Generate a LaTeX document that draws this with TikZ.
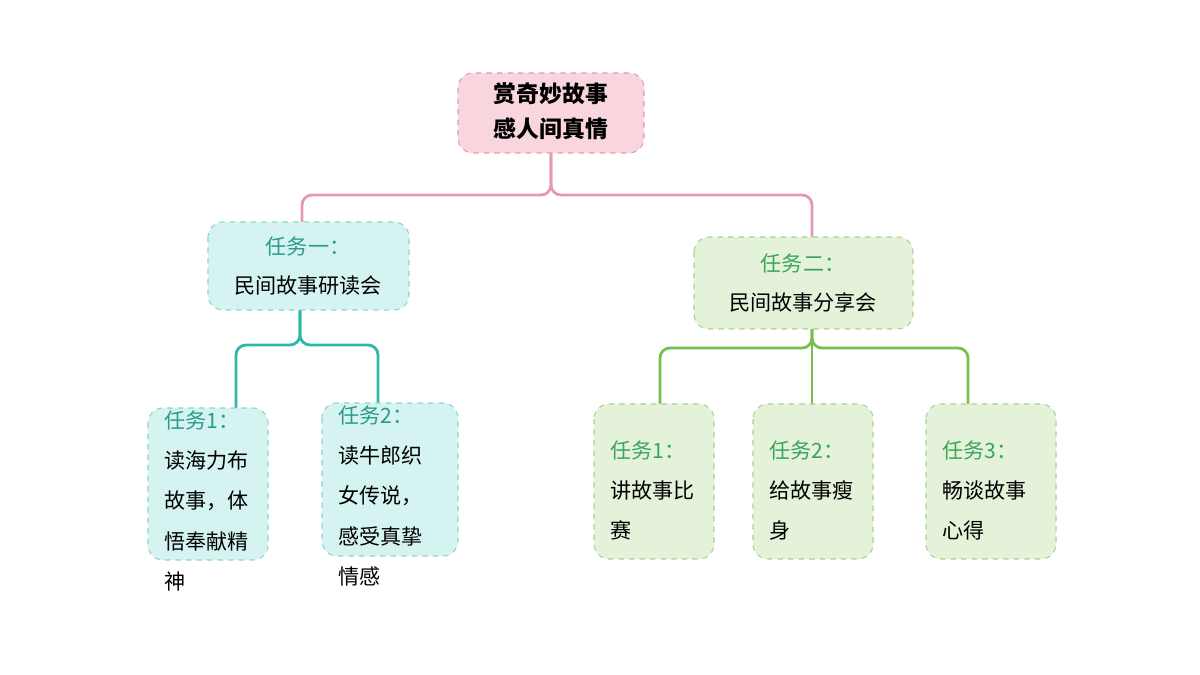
\documentclass[tikz,border=0pt]{standalone}
\usepackage{fontspec}
\setmainfont{Noto Sans CJK SC}
\usetikzlibrary{positioning,calc}
\definecolor{rootFill}{HTML}{F9D6DE}
\definecolor{rootLine}{HTML}{E49AAC}
\definecolor{cyFill}{HTML}{D5F4F1}
\definecolor{cyLine}{HTML}{8FD3CA}
\definecolor{cyEdge}{HTML}{2CB8A8}
\definecolor{cyText}{HTML}{2A9A8C}
\definecolor{grFill}{HTML}{E4F2D9}
\definecolor{grLine}{HTML}{A9D18F}
\definecolor{grEdge}{HTML}{77C04E}
\definecolor{grText}{HTML}{3AA55A}
\tikzset{
	box/.style={draw, dashed, rounded corners=3mm, line width=0.6pt, inner sep=0},
	root/.style={box, fill=rootFill, draw=rootLine},
	cy/.style={box, fill=cyFill, draw=cyLine},
	gr/.style={box, fill=grFill, draw=grLine},
	txt/.style={align=left, inner sep=0, font=\fontsize{12}{23}\selectfont},
	link/.style={line width=1.6pt, rounded corners=2mm}
}
\begin{document}
\begin{tikzpicture}[x=0.02cm, y=-0.02cm]
	\useasboundingbox (0,0) rectangle (1200,675);
	% connectors
	\draw[link, draw=rootLine] (551,153) -- (551,195) -- (302,195) -- (302,222);
	\draw[link, draw=rootLine] (551,153) -- (551,195) -- (812,195) -- (812,237);
	\draw[link, draw=cyEdge] (300,310) -- (300,345) -- (236,345) -- (236,408);
	\draw[link, draw=cyEdge] (300,310) -- (300,345) -- (378,345) -- (378,403);
	\draw[link, draw=grEdge] (812,329) -- (812,404);
	\draw[link, draw=grEdge] (812,329) -- (812,348) -- (660,348) -- (660,404);
	\draw[link, draw=grEdge] (812,329) -- (812,348) -- (968,348) -- (968,404);
	% boxes
	\draw[root] (458,73) rectangle (644,153);
	\node (r) at (551,113) {\fontsize{13}{20}\selectfont\bfseries\begin{tabular}{c}赏奇妙故事\\感人间真情\end{tabular}};
	\draw[cy] (208,222) rectangle (409,310);
	\node (l) at (308,266) {\fontsize{12}{22}\selectfont\begin{tabular}{c}\textcolor{cyText}{任务一：}\\民间故事研读会\end{tabular}};
	\draw[gr] (694,237) rectangle (913,329);
	\node (g) at (803,283) {\fontsize{12}{22}\selectfont\begin{tabular}{c}\textcolor{grText}{任务二：}\\民间故事分享会\end{tabular}};
	\draw[cy] (148,408) rectangle (268,560);
	\node[txt, anchor=north west] (la) at (164,410) {\textcolor{cyText}{任务1：}\\读海力布\\故事，体\\悟奉献精\\神};
	\draw[cy] (322,403) rectangle (458,556);
	\node[txt, anchor=north west] (lb) at (338,405) {\textcolor{cyText}{任务2：}\\读牛郎织\\女传说，\\感受真挚\\情感};
	\draw[gr] (594,404) rectangle (714,559);
	\node[txt, anchor=north west] (ga) at (610,440) {\textcolor{grText}{任务1：}\\讲故事比\\赛};
	\draw[gr] (753,404) rectangle (873,559);
	\node[txt, anchor=north west] (gb) at (769,440) {\textcolor{grText}{任务2：}\\给故事瘦\\身};
	\draw[gr] (926,404) rectangle (1056,559);
	\node[txt, anchor=north west] (gc) at (942,440) {\textcolor{grText}{任务3：}\\畅谈故事\\心得};
\end{tikzpicture}
\end{document}
